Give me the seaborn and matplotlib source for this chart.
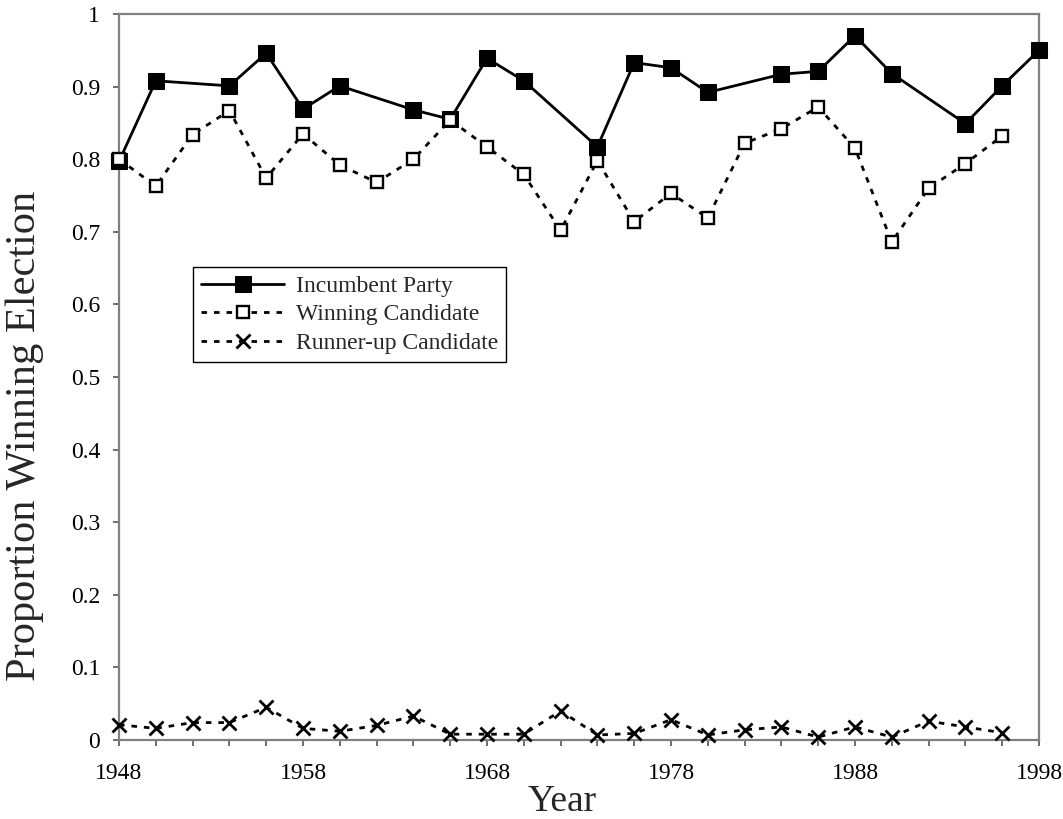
import matplotlib
matplotlib.use("Agg")
import matplotlib.pyplot as plt
import seaborn as sns
import pandas as pd

# ---- data ----
inc_years = [1948, 1950, 1954, 1956, 1958, 1960, 1964, 1966, 1968, 1970, 1974,
             1976, 1978, 1980, 1984, 1986, 1988, 1990, 1994, 1996, 1998]
incumbent = [0.797, 0.908, 0.901, 0.946, 0.869, 0.901, 0.868, 0.855, 0.939, 0.908, 0.817,
             0.933, 0.926, 0.892, 0.917, 0.921, 0.970, 0.918, 0.849, 0.901, 0.950]

cand_years = list(range(1948, 1997, 2))
winning = [0.800, 0.763, 0.834, 0.867, 0.774, 0.835, 0.792, 0.768, 0.800, 0.854,
           0.817, 0.779, 0.702, 0.798, 0.714, 0.753, 0.719, 0.822, 0.842, 0.872,
           0.815, 0.686, 0.760, 0.794, 0.832]
runner_up = [0.021, 0.016, 0.024, 0.024, 0.045, 0.016, 0.012, 0.020, 0.033, 0.008,
             0.008, 0.008, 0.040, 0.007, 0.009, 0.028, 0.007, 0.014, 0.018, 0.004,
             0.018, 0.004, 0.026, 0.018, 0.010]

series_names = ["Incumbent Party", "Winning Candidate", "Runner-up Candidate"]
x_ticks = [1948, 1958, 1968, 1978, 1988, 1998]
y_ticks = [0, 0.1, 0.2, 0.3, 0.4, 0.5, 0.6, 0.7, 0.8, 0.9, 1]
y_tick_labels = ["0", "0.1", "0.2", "0.3", "0.4", "0.5", "0.6", "0.7", "0.8", "0.9", "1"]

sns.set_theme(style="white")
plt.rcParams["font.family"] = ["Liberation Serif", "DejaVu Serif"]

fig = plt.figure(figsize=(10.63, 8.19), dpi=100)
ax = fig.add_axes([119 / 1063, 1 - 740 / 819, 920 / 1063, 726 / 819])

df_inc = pd.DataFrame({"Year": inc_years, "val": incumbent})
df_win = pd.DataFrame({"Year": cand_years, "val": winning})
df_run = pd.DataFrame({"Year": cand_years, "val": runner_up})

sns.lineplot(data=df_inc, x="Year", y="val", ax=ax, color="black", lw=2,
             marker="s", markersize=11, markerfacecolor="black", markeredgecolor="black",
             label=series_names[0], clip_on=False, zorder=3)
sns.lineplot(data=df_win, x="Year", y="val", ax=ax, color="black", lw=2,
             linestyle=(0, (2, 2.5)),
             marker="s", markersize=8.5, markerfacecolor="white", markeredgecolor="black",
             markeredgewidth=1.7, label=series_names[1], clip_on=False, zorder=4)
sns.lineplot(data=df_run, x="Year", y="val", ax=ax, color="black", lw=2,
             linestyle=(0, (2, 2.5)),
             marker="x", markersize=10, markeredgewidth=2, markeredgecolor="black",
             label=series_names[2], clip_on=False, zorder=4)

ax.set_xlim(1948, 1998)
ax.set_ylim(0, 1)
ax.set_xticks(x_ticks)
ax.set_xticks(list(range(1948, 1999, 2)), minor=True)
ax.set_yticks(y_ticks)
ax.set_yticklabels(y_tick_labels)

for s in ax.spines.values():
    s.set_color("#808080")
    s.set_linewidth(1.6)
    s.set_visible(True)

ax.tick_params(axis="both", which="both", direction="out", color="#555555",
               length=4.5, width=1.2, labelsize=17, labelcolor="black")
ax.tick_params(axis="x", which="both", bottom=True, pad=12)
ax.tick_params(axis="y", which="both", left=True, pad=9)

ax.set_xlabel("Year", fontsize=27)
ax.set_ylabel("Proportion Winning Election", fontsize=30.5)
ax.xaxis.set_label_coords(0.482, -0.061)
ax.yaxis.set_label_coords(-0.0815, 0.419)

leg = ax.legend(loc="upper left", bbox_to_anchor=(0.0804, 0.6515), borderaxespad=0,
                frameon=True, fancybox=False, shadow=False, fontsize=17,
                handlelength=3.5, handletextpad=0.5, borderpad=0.35, labelspacing=0.3)
leg.get_frame().set_edgecolor("black")
leg.get_frame().set_linewidth(1.0)
leg.get_frame().set_alpha(1)

fig.savefig("out.png", dpi=100)
